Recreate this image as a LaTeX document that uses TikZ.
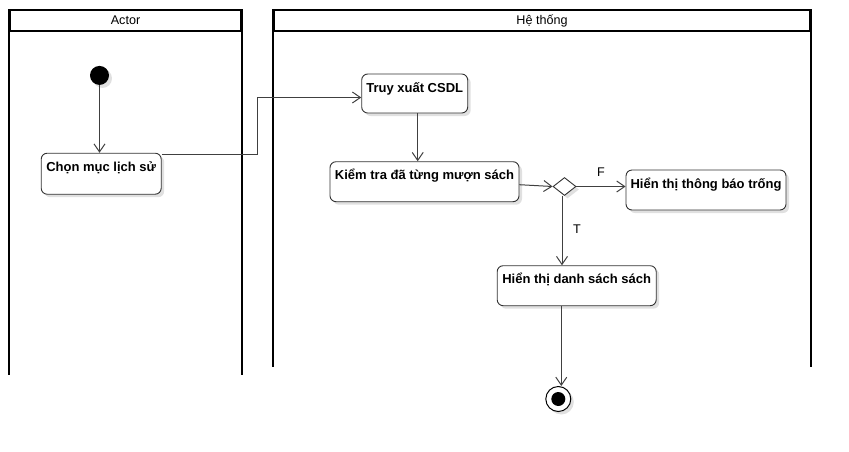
\documentclass[tikz,border=0pt]{standalone}
\usepackage{fontspec}
\setmainfont{Liberation Sans}
\usetikzlibrary{arrows.meta,shapes.geometric,shadows}

\tikzset{
  softshadow/.style={drop shadow={shadow xshift=3pt, shadow yshift=-3pt, opacity=0.12, fill=black}},
  lane/.style={line width=2pt},
  lanehead/.style={draw, line width=2pt, inner sep=0pt, font=\fontsize{12.6}{14}\selectfont},
  act/.style={draw=black!80, line width=0.9pt, rounded corners=6pt, fill=white, softshadow,
    font=\bfseries\fontsize{13}{15}\selectfont, inner xsep=3pt, inner ysep=3pt,
    text height=15pt, text depth=19pt},
  flow/.style={draw=black!75, line width=1pt, -{Straight Barb[length=8pt,width=11pt]}},
  guard/.style={font=\fontsize{12.6}{14}\selectfont, inner sep=0pt},
}

\begin{document}
\begin{tikzpicture}[x=1pt, y=-1pt]
    \useasboundingbox (0,0) rectangle (849,451);

    % Actor
    \node[lanehead, minimum width=231, minimum height=21] (actor) at (125.5,20.5) {Actor};
    \draw[lane] (actor.north west) -- ++(0,366);
    \draw[lane] (actor.north east) -- ++(0,366);

    % He thong
    \node[lanehead, minimum width=536, minimum height=21] (system) at (542,20.5) {Hệ thống};
    \draw[lane] (system.north west) -- ++(0,358);
    \draw[lane] (system.north east) -- ++(0,358);

    % start
    \node[circle, fill=black, minimum size=19pt, inner sep=0pt, softshadow] (start) at (99.5,75.4) {};
    \node[act, minimum width=120, text depth=20pt] (chon) at (101.2,173.7) {Chọn mục lịch sử};

    % system actions
    \node[act, minimum width=106, text depth=18pt] (truy) at (414.7,93.5) {Truy xuất CSDL};
    \node[act, minimum width=189] (kiem) at (424.5,181.7) {Kiểm tra đã từng mượn sách};
    \node[diamond, draw=black!80, line width=0.9pt, fill=white, minimum width=23pt, minimum height=18pt,
      inner sep=0pt, aspect=1.3, softshadow] (dec) at (564.5,186.5) {};
    \node[act, minimum width=160] (tb) at (706,190) {Hiển thị thông báo trống};
    \node[act, minimum width=159] (danh) at (576.7,285.7) {Hiển thị danh sách sách};

    % end
    \node[circle, draw=black, line width=1pt, fill=white, minimum size=25pt, inner sep=0pt, softshadow] (end) at (558.3,399) {};
    \node[circle, fill=black, minimum size=14pt, inner sep=0pt] (endin) at (end) {};

    % guards
    \node[guard] (lf) at (601,171.7) {F};
    \node[guard] (lt) at (577,229) {T};

    % flows
    \draw[flow] (start) -- (start |- chon.north);
    \draw[flow] ([yshift=-1.7pt]chon.north east) -- ++(96,0) |- ([yshift=-4pt]truy.west);
    \draw[flow] ([xshift=3pt]truy.south) -- ([xshift=3pt]truy.south |- kiem.north);
    \draw[flow] ([yshift=-3pt]kiem.east) -- (dec.west);
    \draw[flow] (dec.east) -- (dec.east -| tb.west);
    \draw[flow] ([xshift=-2.5pt]dec.south) -- ([xshift=-2.5pt]dec.south |- danh.north);
    \draw[flow] ([xshift=3pt]end.north |- danh.south) -- ([xshift=3pt]end.north);
\end{tikzpicture}
\end{document}
